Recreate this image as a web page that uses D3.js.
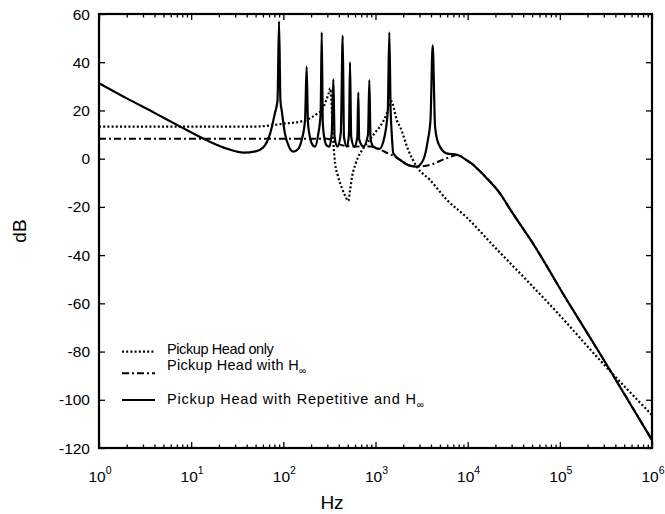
<!DOCTYPE html>
<html>
<head>
<meta charset="utf-8">
<script src="https://cdn.jsdelivr.net/npm/d3@7/dist/d3.min.js"></script>
<style>
  html, body { margin: 0; padding: 0; background: #fff; }
  svg { display: block; font-family: "Liberation Sans", Arial, Helvetica, sans-serif; }
</style>
</head>
<body>
<svg id="chart" width="665" height="514"></svg>
<script>
// ---- Data ----
const xTickExponents = [0, 1, 2, 3, 4, 5, 6];
const yTicks = [60, 40, 20, 0, -20, -40, -60, -80, -100, -120];
const legendLabels = ["Pickup Head only", "Pickup Head with H", "Pickup Head with Repetitive and H"];

// Pickup Head only  [Hz, dB]
const pickupOnly = [
  [1, 13.3], [10, 13.3], [50, 13.3], [65, 13.6], [80, 14.0], [100, 14.5], [150, 15.3],
  [200, 17], [240, 19], [261, 20], [290, 24], [310, 27], [322, 29.2], [332, 24],
  [340, 15], [350, 6], [365, -2], [390, -7], [430, -12], [470, -15.5], [507, -17.5],
  [530, -13], [560, -7], [610, -2], [650, 0.8], [730, 4], [850, 7.5], [1000, 11],
  [1150, 14], [1300, 18], [1420, 22], [1500, 23.8], [1580, 21], [1700, 16], [1845, 13.3],
  [2268, 3.6], [2800, -3.3], [3900, -8.8], [5920, -17], [9600, -24.1], [20000, -37],
  [51000, -53.1], [100000, -65], [271000, -83.5], [1000000, -106.3]
];

// Pickup Head with H-infinity  [Hz, dB]
const withHinf = [
  [1, 8.3], [10, 8.3], [100, 8.3], [300, 8.3], [340, 7.5], [400, 6], [500, 5.2],
  [700, 5], [900, 5], [1000, 4.5], [1200, 3.2], [1500, 1.5], [1850, -0.5], [2360, -2.9],
  [2800, -3.3], [3900, -2.6], [5900, 0.2], [7800, 1.5], [9600, -0.5], [11000, -2],
  [13000, -4.5], [16000, -8], [22400, -14.4], [30000, -22], [51000, -35.1],
  [116000, -57.9], [271000, -80.7], [1000000, -116.7]
];

// Pickup Head with Repetitive and H-infinity  [Hz, dB]
const withRepHinf = [
  [1, 31.3], [2, 25], [4, 19], [7.6, 13.3], [15, 7.5], [25, 4], [37, 2.5], [50, 3],
  [60, 4.5], [72, 10.5], [81, 18.8], [86.5, 24.3], [89.8, 57], [93, 24], [96, 20],
  [104, 10.5], [115, 5], [128, 2.9], [145, 4], [158, 7.7], [172, 16], [179, 38.2],
  [185, 15], [192, 10], [203, 6.4], [220, 5], [240, 10.5], [254, 18.8], [261, 52.4],
  [268, 15], [280, 8], [295, 5.5], [316, 5], [335, 10.5], [349, 33], [360, 9],
  [386, 5], [420, 10.5], [441, 51], [455, 9], [490, 5], [515, 10], [529, 40],
  [545, 9], [590, 5], [635, 9], [651, 27.4], [665, 8], [740, 5], [830, 10],
  [857, 32.6], [885, 8], [950, 5], [1100, 4], [1250, 9], [1360, 20], [1412, 52.4],
  [1460, 20], [1500, 10.5], [1560, 2.2], [1850, -0.5], [2360, -2.9], [2800, -3.3],
  [3300, -0.5], [3700, 7.7], [3950, 16], [4172, 47], [4430, 13.3], [4800, 6.4],
  [5900, 2.2], [7800, 1.5], [9600, -0.5], [11000, -2], [13000, -4.5], [16000, -8],
  [22400, -14.4], [30000, -22], [51000, -35.1], [116000, -57.9], [271000, -80.7],
  [1000000, -116.7]
];

// ---- Layout ----
const svg = d3.select("#chart");
const X0 = 99, X1 = 652, Y0 = 14, Y1 = 448;
const x = d3.scaleLog().domain([1, 1e6]).range([X0, X1]);
const y = d3.scaleLinear().domain([-120, 60]).range([Y1, Y0]);

svg.append("defs").append("clipPath").attr("id", "plotclip")
  .append("rect").attr("x", X0).attr("y", Y0).attr("width", X1 - X0).attr("height", Y1 - Y0);

// Minor and major ticks
const majorX = xTickExponents.map(e => Math.pow(10, e));
const minorX = [];
for (let e = 0; e < 6; e++) for (let m = 2; m <= 9; m++) minorX.push(m * Math.pow(10, e));

function tickAxis(axisGen, tx, ty) {
  const g = svg.append("g").attr("transform", `translate(${tx},${ty})`).call(axisGen);
  g.select(".domain").remove();
  g.selectAll("line").attr("stroke", "#000").attr("stroke-width", 1.3);
  return g;
}
tickAxis(d3.axisBottom(x).tickValues(minorX).tickSize(-3.5).tickFormat(""), 0, Y1);
tickAxis(d3.axisBottom(x).tickValues(majorX).tickSize(-6).tickFormat(""), 0, Y1);
tickAxis(d3.axisTop(x).tickValues(minorX).tickSize(-3.5).tickFormat(""), 0, Y0);
tickAxis(d3.axisTop(x).tickValues(majorX).tickSize(-6).tickFormat(""), 0, Y0);
tickAxis(d3.axisLeft(y).tickValues(yTicks).tickSize(-6).tickFormat(""), X0, 0);
tickAxis(d3.axisRight(y).tickValues(yTicks).tickSize(-6).tickFormat(""), X1, 0);

// Frame
svg.append("rect").attr("x", X0).attr("y", Y0).attr("width", X1 - X0).attr("height", Y1 - Y0)
  .attr("fill", "none").attr("stroke", "#000").attr("stroke-width", 2.2);

// Y tick labels
svg.append("g").selectAll("text").data(yTicks).join("text")
  .attr("x", X0 - 9).attr("y", d => y(d) + 5.5)
  .attr("text-anchor", "end").attr("font-size", 15.5).attr("fill", "#000")
  .text(d => d);

// X tick labels with superscripts
const xl = svg.append("g").selectAll("text").data(xTickExponents).join("text")
  .attr("x", e => x(Math.pow(10, e)) + 1).attr("y", 482)
  .attr("text-anchor", "middle").attr("font-size", 15.5).attr("fill", "#000");
xl.append("tspan").text("10");
xl.append("tspan").attr("font-size", 10.5).attr("dy", -8).text(e => e);

// Axis titles
svg.append("text").attr("x", 332).attr("y", 509).attr("text-anchor", "middle")
  .attr("font-size", 19).text("Hz");
svg.append("text").attr("transform", "translate(26,231) rotate(-90)")
  .attr("text-anchor", "middle").attr("font-size", 19).text("dB");

// Curves
const line = d3.line().x(d => x(d[0])).y(d => y(d[1])).curve(d3.curveMonotoneX);
const plot = svg.append("g").attr("clip-path", "url(#plotclip)");

const styles = [
  { data: pickupOnly, dash: "2,2.2", width: 2.2 },
  { data: withHinf, dash: "7,3,2,3", width: 2 },
  { data: withRepHinf, dash: null, width: 2.2 }
];
styles.forEach(s => {
  plot.append("path").datum(s.data).attr("d", line)
    .attr("fill", "none").attr("stroke", "#000").attr("stroke-width", s.width)
    .attr("stroke-dasharray", s.dash).attr("stroke-linejoin", "round");
});

// Legend
const legendY = [351.7, 373.3, 400];
const textY = [354, 369.5, 404];
const textSpacing = [-0.4, 0.3, 0.8];
const lg = svg.append("g");
styles.forEach((s, i) => {
  lg.append("line").attr("x1", 122).attr("x2", 155).attr("y1", legendY[i]).attr("y2", legendY[i])
    .attr("stroke", "#000").attr("stroke-width", s.width).attr("stroke-dasharray", s.dash);
  const t = lg.append("text").attr("x", 167).attr("y", textY[i]).attr("font-size", 14.5)
    .attr("letter-spacing", textSpacing[i]).text(legendLabels[i]);
  if (i > 0) t.append("tspan").attr("font-size", 10).attr("dy", 4).attr("letter-spacing", 0).text("\u221E");
});
</script>
</body>
</html>
